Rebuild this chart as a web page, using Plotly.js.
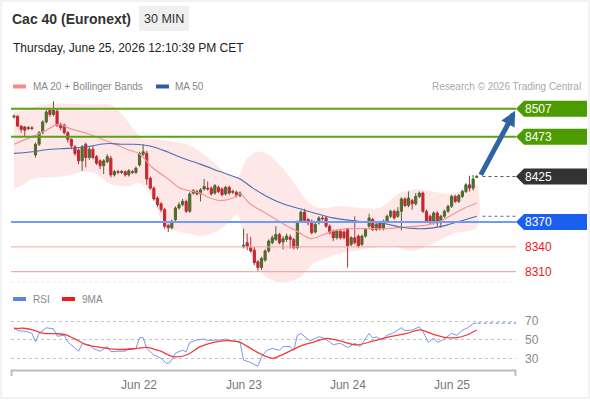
<!DOCTYPE html>
<html>
<head>
<meta charset="utf-8">
<script src="https://cdn.plot.ly/plotly-3.0.1.min.js"></script>
<style>html,body{margin:0;padding:0;background:#fff;}#chart{width:590px;height:400px;}</style>
</head>
<body>
<div id="chart"></div>
<script>
// ---- data (bar index 0..129, 30-minute bars) ----
var openP  = [8497,8498,8486,8485,8483,8484,8451,8464,8478,8491,8505,8500,8504,8488,8487,8478,8470,8461,8457,8444,8464,8448,8458,8449,8444,8438,8443,8447,8427,8431,8430,8431,8427,8431,8430,8439,8452,8453,8423,8411,8399,8392,8385,8366,8363,8373,8387,8391,8395,8383,8405,8407,8404,8410,8411,8411,8405,8412,8410,8404,8412,8406,8406,8402,8340,8345,8339,8336,8322,8315,8324,8335,8345,8349,8355,8346,8349,8352,8349,8339,8371,8382,8373,8371,8358,8369,8375,8375,8365,8359,8351,8359,8358,8362,8343,8351,8353,8343,8353,8365,8373,8361,8369,8362,8371,8377,8383,8377,8383,8398,8390,8396,8392,8401,8405,8383,8377,8369,8381,8369,8377,8383,8389,8401,8395,8401,8407,8415,8411,8424];
var highP  = [8500,8499,8487,8486,8486,8486,8466,8480,8493,8506,8507,8516,8506,8490,8489,8480,8471,8463,8459,8463,8466,8462,8462,8451,8446,8446,8452,8450,8433,8433,8433,8432,8434,8433,8437,8455,8464,8456,8425,8413,8401,8394,8387,8368,8373,8389,8394,8398,8397,8406,8410,8409,8411,8422,8419,8413,8416,8414,8412,8414,8414,8409,8408,8407,8362,8356,8352,8340,8324,8328,8337,8349,8354,8365,8357,8353,8356,8355,8351,8372,8384,8386,8375,8373,8369,8377,8377,8377,8367,8361,8361,8361,8360,8363,8353,8377,8355,8355,8363,8380,8375,8369,8371,8373,8379,8385,8385,8388,8400,8400,8407,8398,8405,8407,8407,8385,8379,8383,8383,8379,8385,8391,8403,8403,8404,8409,8417,8426,8427,8427];
var lowP   = [8495,8485,8478,8474,8481,8481,8448,8462,8476,8489,8497,8498,8485,8481,8476,8466,8458,8450,8440,8432,8436,8445,8446,8439,8434,8428,8441,8424,8425,8428,8428,8425,8425,8428,8428,8437,8450,8415,8409,8396,8388,8382,8362,8358,8361,8371,8385,8389,8381,8381,8403,8402,8395,8408,8408,8402,8403,8405,8401,8402,8403,8404,8400,8400,8338,8336,8333,8318,8311,8312,8322,8333,8343,8347,8343,8337,8346,8338,8337,8337,8369,8370,8366,8355,8356,8367,8372,8363,8355,8347,8349,8349,8349,8315,8341,8343,8339,8341,8351,8363,8359,8359,8360,8360,8369,8375,8373,8375,8360,8388,8388,8385,8390,8399,8381,8369,8367,8367,8365,8363,8375,8381,8387,8393,8393,8399,8405,8407,8408,8423];
var closeP = [8498,8486,8482,8481,8484,8483,8464,8478,8491,8503,8500,8505,8487,8484,8478,8470,8462,8453,8444,8461,8448,8458,8448,8441,8438,8444,8449,8427,8431,8430,8431,8427,8432,8430,8435,8453,8455,8422,8411,8398,8391,8385,8365,8363,8371,8387,8391,8395,8383,8404,8408,8404,8409,8413,8410,8404,8414,8407,8403,8412,8405,8407,8402,8405,8342,8340,8335,8321,8315,8326,8335,8347,8351,8355,8345,8350,8353,8349,8339,8370,8382,8372,8369,8357,8367,8375,8374,8365,8357,8351,8359,8351,8351,8341,8351,8345,8341,8353,8361,8375,8361,8367,8362,8371,8377,8383,8375,8383,8398,8390,8399,8392,8401,8405,8383,8371,8369,8381,8369,8377,8383,8389,8401,8395,8402,8407,8415,8411,8422,8425];

var ma20X   = [0,8.1,12.3,15.6,20.4,25.9,31.5,35.1,38.8,42.7,46.3,49.9,51.9,54.6,57.4,61.1,63,65.8,70.5,75,78.9,82.8,87.5,89.5,94.2,98.7,103.4,109,114.6,118.8,123,125.7,129];
var ma20Val = [8464,8479,8488,8483,8477,8468,8458,8452,8435,8423,8411,8407,8405,8399,8396,8399,8404,8392,8380,8368,8359,8350,8357,8360,8362,8362,8362,8364,8366,8371,8381,8387,8393];

var ma50X   = [0,5.3,10,14.8,20.4,24,26.8,29.6,33.2,37.9,42.7,47.1,51.9,57.4,63,66.6,70.5,75,79.7,84.5,88.9,93.7,98.4,103.4,107.6,112.4,116.8,120.4,124.3,129];
var ma50Val = [8453,8455,8458,8459,8461,8464,8465,8464,8464,8462,8455,8447,8440,8431,8422,8411,8401,8392,8386,8380,8375,8372,8370,8368,8364,8362,8363,8366,8371,8377];

var bbUpX   = [0,5.3,10,14.8,22,26.8,29.6,33.2,36,39.9,44.3,48.2,51.9,55.5,59.4,62.2,65,67.7,70.5,75,79.7,82.5,85.3,90.9,96.5,102,107.6,112.4,116.8,121.5,126.3,129];
var bbUpVal = [8503,8509,8513,8513,8512,8512,8503,8483,8471,8470,8467,8464,8455,8443,8428,8424,8447,8455,8453,8435,8407,8392,8387,8389,8387,8387,8405,8410,8407,8404,8411,8416];
var bbLoX   = [0,1.7,5.3,10,14.8,19.2,22.6,26.8,31.5,35.1,38.8,41.5,45.4,49.1,51.9,56.6,60.2,62.2,63.8,66.6,70.5,75,79.7,83.4,87.3,90.9,94.5,100.1,104.8,107.6,111.2,116.8,122.4,129];
var bbLoVal = [8411,8413,8422,8424,8426,8431,8429,8416,8413,8417,8399,8368,8359,8356,8353,8359,8371,8380,8359,8327,8303,8297,8303,8320,8327,8332,8335,8339,8341,8339,8335,8344,8356,8363];

var rsiX   = [0,1,3.5,5,6,7,9,11,12,14,15,16.5,18,19,21,22,24,26,27,29,31,32,34,35,36,37,39,41,42.5,43.5,45,47,48,49,51,53,54,56,58,59,61,63,64,66,68,69,70.5,72,74,75,77,78,79,80,82.5,85,86.5,89,91,93,95,96.5,99,100,101,102.5,104,105.5,108,109,111,113,114,115.5,117,118,119.5,122,123.5,125,126.5,128,129];
var rsiVal = [64,60,59,57,48,57,63,62,54,55,48,43,38,46,45,41,38,43,37.5,38,38,41,41,52.5,52.5,41,34,30.5,25,26,36,39,37.5,47.5,50,51,49.5,50,50,51,49,48,28.5,26,22,32,39,41,39,43,43,39,55,57,49,53.5,52,45,46.5,42,46.5,43,57,52,53.5,50,55,57,63,60,60.5,64,59,47.5,52,47.5,50,57,55,60.5,63,67.5,68];
var ma9X   = [0,2.6,5.4,8.2,11.9,14.7,17.5,20.3,24,28.6,33.3,37,40.7,44.4,48.1,51.9,55.6,59.3,63,66.7,70.4,72.3,75,77.9,80.7,83.4,87.2,90.9,95.5,100.2,104.8,109.5,113.2,116.9,120.6,123.4,126.2,129];
var ma9Val = [62,62.5,60.5,57,56.7,55.3,50,44.7,42.2,40,40.4,42.2,38.3,32.2,34,42.9,47.5,49.3,47.5,39.3,32.2,30.5,34.7,40,44.7,47.5,51.8,49,44.7,49,53.5,57,60.7,56,52.5,52.5,55.3,60.7];

var dayTickPos   = [34.85, 64.1, 93.1, 122.1];
var dayTickLabel = ['Jun 22', 'Jun 23', 'Jun 24', 'Jun 25'];

var levelVals   = [8507, 8473, 8425, 8370, 8340, 8310];
var levelLabels = ['8507', '8473', '8425', '8370', '8340', '8310'];
var lastPrice = 8425, lastMa50 = 8377, lastRsi = 68;
var arrowTarget = [139.7, 8504.4];
var arrowStart  = [129.9, 8425.2];

// ---- geometry helpers (pixel -> paper) ----
var PL = 11, PW = 505, PT = 90, PH = 280;
function px(x){ return (x - PL) / PW; }
function py(y){ return (PT + PH - y) / PH; }
var FONT = 'Arial, "Liberation Sans", sans-serif';
var idx = openP.map(function(_, i){ return i; });

var traces = [
  {type:'scatter', mode:'lines', x: bbUpX.concat(bbLoX.slice().reverse()), y: bbUpVal.concat(bbLoVal.slice().reverse()),
   fill:'toself', fillcolor:'rgba(250,70,70,0.13)', line:{width:0, shape:'spline', smoothing:0.8}, hoverinfo:'skip', xaxis:'x', yaxis:'y'},
  {type:'scatter', mode:'lines', x: ma20X, y: ma20Val, line:{color:'#f49696', width:1.2, shape:'spline', smoothing:0.8}, xaxis:'x', yaxis:'y'},
  {type:'scatter', mode:'lines', x: ma50X, y: ma50Val, line:{color:'#4a6fb3', width:1.1, shape:'spline', smoothing:0.8}, xaxis:'x', yaxis:'y'},
  {type:'candlestick', x: idx, open: openP, high: highP, low: lowP, close: closeP, xaxis:'x', yaxis:'y',
   whiskerwidth: 0,
   increasing:{line:{color:'#3c6a2e', width:1}, fillcolor:'#2f7d1c'},
   decreasing:{line:{color:'#a8303a', width:1}, fillcolor:'#e3101b'}},
  {type:'scatter', mode:'lines', x: rsiX, y: rsiVal, line:{color:'#7b97ea', width:1}, xaxis:'x', yaxis:'y2'},
  {type:'scatter', mode:'lines', x: ma9X, y: ma9Val, line:{color:'#f23b3b', width:1.3, shape:'spline', smoothing:0.8}, xaxis:'x', yaxis:'y2'}
];

var shapes = [];
// outer frame
shapes.push({type:'rect', xref:'paper', yref:'paper', x0:px(1), x1:px(589), y0:py(398), y1:py(1), line:{color:'#e6e6e6', width:1}, layer:'below'});
// "30 MIN" badge
shapes.push({type:'rect', xref:'paper', yref:'paper', x0:px(139), x1:px(189), y0:py(31), y1:py(6), fillcolor:'#efefef', line:{width:0}, layer:'below'});
// legend swatches
shapes.push({type:'rect', xref:'paper', yref:'paper', x0:px(13), x1:px(26), y0:py(88.5), y1:py(84.5), fillcolor:'#f78a8a', line:{width:0}});
shapes.push({type:'rect', xref:'paper', yref:'paper', x0:px(156), x1:px(169), y0:py(88.5), y1:py(84.5), fillcolor:'#2f5c9e', line:{width:0}});
shapes.push({type:'rect', xref:'paper', yref:'paper', x0:px(13), x1:px(26), y0:py(301), y1:py(297), fillcolor:'#5f82e6', line:{width:0}});
shapes.push({type:'rect', xref:'paper', yref:'paper', x0:px(62), x1:px(75), y0:py(301), y1:py(297), fillcolor:'#f21a1a', line:{width:0}});
// faint separator under price panel
shapes.push({type:'line', xref:'paper', yref:'paper', x0:0, x1:1, y0:py(282), y1:py(282), line:{color:'#ececec', width:1, dash:'dot'}});
// level lines
var levelLine = [
  {c:'#5aa318', w:2}, {c:'#5aa318', w:2}, null, {c:'#6f9cf4', w:2}, {c:'#f5a3a3', w:1}, {c:'#ee9a9a', w:1}
];
levelVals.forEach(function(v, k){
  if (!levelLine[k]) return;
  shapes.push({type:'line', xref:'paper', yref:'y', x0:0, x1:1, y0:v, y1:v, line:{color:levelLine[k].c, width:levelLine[k].w}});
});
// dotted extensions
shapes.push({type:'line', xref:'x', yref:'y', x0:130.6, x1:139.95, y0:lastPrice, y1:lastPrice, line:{color:'#555', width:1, dash:'dot'}});
shapes.push({type:'line', xref:'x', yref:'y', x0:130.6, x1:139.95, y0:lastMa50, y1:lastMa50, line:{color:'#4a6fb3', width:1, dash:'dot'}});
shapes.push({type:'line', xref:'x', yref:'y2', x0:129.3, x1:139.95, y0:lastRsi, y1:lastRsi, line:{color:'#7b97ea', width:1.2, dash:'dot'}});
// label boxes (arrow-tag shape)
var boxColor = ['#4c9c00', '#4c9c00', '#333333', '#1a5ff0', null, null];
var halfH = 8 * 1.2086; // 8 px in price units
levelVals.forEach(function(v, k){
  if (!boxColor[k]) return;
  var a = 1.0, b = px(524), c = px(587);
  var path = 'M' + a + ',' + v + ' L' + b + ',' + (v + halfH) + ' L' + c + ',' + (v + halfH) +
             ' L' + c + ',' + (v - halfH) + ' L' + b + ',' + (v - halfH) + ' Z';
  shapes.push({type:'path', xref:'paper', yref:'y', path:path, fillcolor:boxColor[k], line:{width:0}});
});
// x axis line with end ticks
shapes.push({type:'line', xref:'paper', yref:'paper', x0:0, x1:1, y0:py(370.5), y1:py(370.5), line:{color:'#bdbdbd', width:2}});
shapes.push({type:'line', xref:'paper', yref:'paper', x0:px(11.5), x1:px(11.5), y0:py(370), y1:py(376), line:{color:'#bdbdbd', width:2}});
shapes.push({type:'line', xref:'paper', yref:'paper', x0:px(515.5), x1:px(515.5), y0:py(370), y1:py(376), line:{color:'#bdbdbd', width:2}});

var annotations = [
  {xref:'paper', yref:'paper', x:px(9.5), y:py(19), xanchor:'left', yanchor:'middle', showarrow:false,
   text:'<b>Cac 40 (Euronext)</b>', font:{family:FONT, size:14, color:'#333'}},
  {xref:'paper', yref:'paper', x:px(164), y:py(19), xanchor:'center', yanchor:'middle', showarrow:false,
   text:'30 MIN', font:{family:FONT, size:12.5, color:'#333'}},
  {xref:'paper', yref:'paper', x:px(11), y:py(48), xanchor:'left', yanchor:'middle', showarrow:false,
   text:'Thursday, June 25, 2026 12:10:39 PM CET', font:{family:FONT, size:12, color:'#222'}},
  {xref:'paper', yref:'paper', x:px(31), y:py(86), xanchor:'left', yanchor:'middle', showarrow:false,
   text:'MA 20 + Bollinger Bands', font:{family:FONT, size:10, color:'#888'}},
  {xref:'paper', yref:'paper', x:px(173), y:py(86), xanchor:'left', yanchor:'middle', showarrow:false,
   text:'MA 50', font:{family:FONT, size:10, color:'#888'}},
  {xref:'paper', yref:'paper', x:px(583), y:py(86), xanchor:'right', yanchor:'middle', showarrow:false,
   text:'Research \u00a9 2026 Trading Central', font:{family:FONT, size:10, color:'#aaa'}},
  {xref:'paper', yref:'paper', x:px(31), y:py(299), xanchor:'left', yanchor:'middle', showarrow:false,
   text:'RSI', font:{family:FONT, size:10, color:'#888'}},
  {xref:'paper', yref:'paper', x:px(80), y:py(299), xanchor:'left', yanchor:'middle', showarrow:false,
   text:'9MA', font:{family:FONT, size:10, color:'#888'}},
  {xref:'x', yref:'y', axref:'x', ayref:'y', x:arrowTarget[0], y:arrowTarget[1], ax:arrowStart[0], ay:arrowStart[1],
   text:'', showarrow:true, arrowhead:2, arrowsize:0.6, arrowwidth:5, arrowcolor:'#2e63a6', standoff:0, startstandoff:0}
];
var labelColor = ['#fff', '#fff', '#fff', '#fff', '#f0141e', '#f0141e'];
levelVals.forEach(function(v, k){
  annotations.push({xref:'paper', yref:'y', x:px(523), y:v, xanchor:'left', yanchor:'middle', showarrow:false,
    text:levelLabels[k], font:{family:FONT, size:12, color:labelColor[k]}});
});

var layout = {
  width:590, height:400,
  margin:{l:PL, r:590 - PL - PW, t:PT, b:400 - PT - PH, pad:0},
  paper_bgcolor:'#fff', plot_bgcolor:'#fff',
  showlegend:false, hovermode:false, boxgap:0.15,
  font:{family:FONT},
  xaxis:{domain:[0,1], range:[-0.836, 139.95], anchor:'y2', showgrid:false, zeroline:false, showline:false,
         ticks:'', tickmode:'array', tickvals:dayTickPos, ticktext:dayTickLabel, ticklabelstandoff:6,
         tickfont:{family:FONT, size:12, color:'#777'}, rangeslider:{visible:false}, fixedrange:true},
  yaxis:{domain:[(370-287)/PH, 1], range:[8291.5, 8529.6], showgrid:false, zeroline:false, showline:false,
         showticklabels:false, ticks:'', fixedrange:true},
  yaxis2:{domain:[0, (370-305)/PH], range:[18, 87.3], anchor:'x', side:'right', showgrid:true, gridcolor:'#c4c4c4',
          griddash:'dot', gridwidth:1, zeroline:false, showline:false, ticks:'', tickmode:'array', tickvals:[30,50,70],
          ticklabelstandoff:8, tickfont:{family:FONT, size:12, color:'#888'}, fixedrange:true},
  shapes:shapes, annotations:annotations
};

Plotly.newPlot('chart', traces, layout, {displayModeBar:false, staticPlot:true});
</script>
</body>
</html>
